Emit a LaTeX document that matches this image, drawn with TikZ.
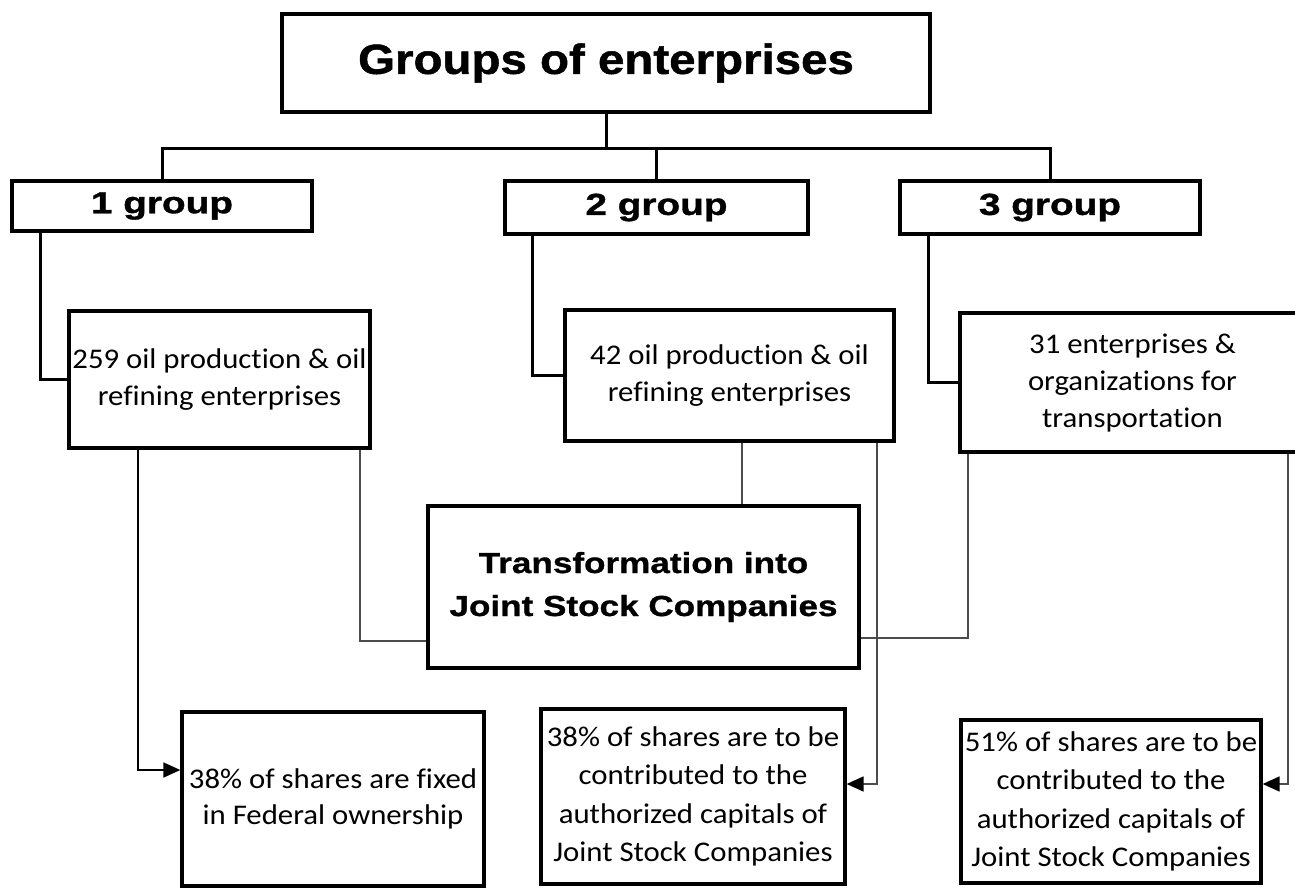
\documentclass[tikz,border=0pt]{standalone}
\usepackage{fontspec}
\setmainfont{Carlito}[FakeStretch=1.08, Ligatures=NoCommon]
\newfontfamily\titlefont{Liberation Sans}[FakeStretch=1.13, FakeBold=1.2]
\newfontfamily\groupfont{Liberation Sans}[FakeStretch=1.27, FakeBold=1.2]
\newfontfamily\transfont{Liberation Sans}[FakeStretch=1.21, FakeBold=1.0]
\usetikzlibrary{arrows.meta}
\begin{document}
\begin{tikzpicture}[x=1pt,y=-1pt,
  box/.style={draw, line width=3.3pt, rectangle, inner sep=0pt, align=center, fill=white,
              font=\fontsize{28.5}{37}\selectfont},
  grp/.style={box, font=\groupfont\bfseries\fontsize{30.5}{36}\selectfont},
  conn/.style={line width=3pt, black},
  thinconn/.style={line width=1.7pt, black!70},
  arr/.style={-{Triangle[length=17pt,width=15pt,color=black]}}
]
\useasboundingbox (0,0) rectangle (1295,888);
\fill[white] (0,0) rectangle (1295,888);

% nodes
\node[box, minimum width=648pt, minimum height=98pt,
      font=\titlefont\bfseries\fontsize{42}{50}\selectfont] (title) at (606,63) {Groups of enterprises};
\node[grp, minimum width=300pt, minimum height=50pt] (g1) at (162,206) {1 group};
\node[grp, minimum width=303pt, minimum height=53pt] (g2) at (656.5,207.5) {2 group};
\node[grp, minimum width=300pt, minimum height=53pt] (g3) at (1050,207.5) {3 group};

\node[box, minimum width=301pt, minimum height=137pt] (b259) at (219.5,379.5)
  {259 oil production \& oil\\refining enterprises};
\node[box, minimum width=329pt, minimum height=131pt] (b42) at (729.5,375.5)
  {42 oil production \& oil\\refining enterprises};
\node[box, minimum width=345pt, minimum height=139pt] (b31) at (1132.5,382.5)
  {31 enterprises \&\\organizations for\\transportation};

\node[box, minimum width=431pt, minimum height=162pt,
      font=\transfont\bfseries\fontsize{29}{43}\selectfont] (trans) at (643.5,587)
  {Transformation into\\Joint Stock Companies};

\node[box, minimum width=302pt, minimum height=174pt,
      font=\fontsize{28.5}{36}\selectfont] (s1) at (333,799)
  {38\% of shares are fixed\\in Federal ownership};
\node[box, minimum width=304pt, minimum height=175pt,
      font=\fontsize{28.5}{38.5}\selectfont] (s2) at (693,796.5)
  {38\% of shares are to be\\contributed to the\\authorized capitals of\\Joint Stock Companies};
\node[box, minimum width=300pt, minimum height=163pt,
      font=\fontsize{28.5}{38.5}\selectfont] (s3) at (1111,801.5)
  {51\% of shares are to be\\contributed to the\\authorized capitals of\\Joint Stock Companies};

% top connectors
\draw[conn] (title.south) -- ++(0,35) coordinate (bus);
\draw[conn] (g1.north) |- (bus);
\draw[conn] (g2.north) |- (bus);
\draw[conn] (g3.north) |- (bus);

\draw[conn] (g1.south -| 40,0) |- (b259.west);
\draw[conn] (g2.south -| 532,0) |- (b42.west);
\draw[conn] (g3.south -| 928,0) |- (b31.west);

% lower connectors
\draw[thinconn,black,arr] (b259.south -| 138,0) |- (s1.west |- 0,770);
\draw[thinconn] (b259.south -| 360,0) |- (trans.west |- 0,641);
\draw[thinconn] (b42.south -| 742,0) -- (trans.north -| 742,0);
\draw[thinconn,arr] (b42.south -| 877,0) |- (s2.east |- 0,784);
\draw[thinconn] (b31.south -| 968,0) |- (trans.east |- 0,638);
\draw[thinconn,arr] (b31.south -| 1288,0) |- (s3.east |- 0,784);
\end{tikzpicture}
\end{document}
